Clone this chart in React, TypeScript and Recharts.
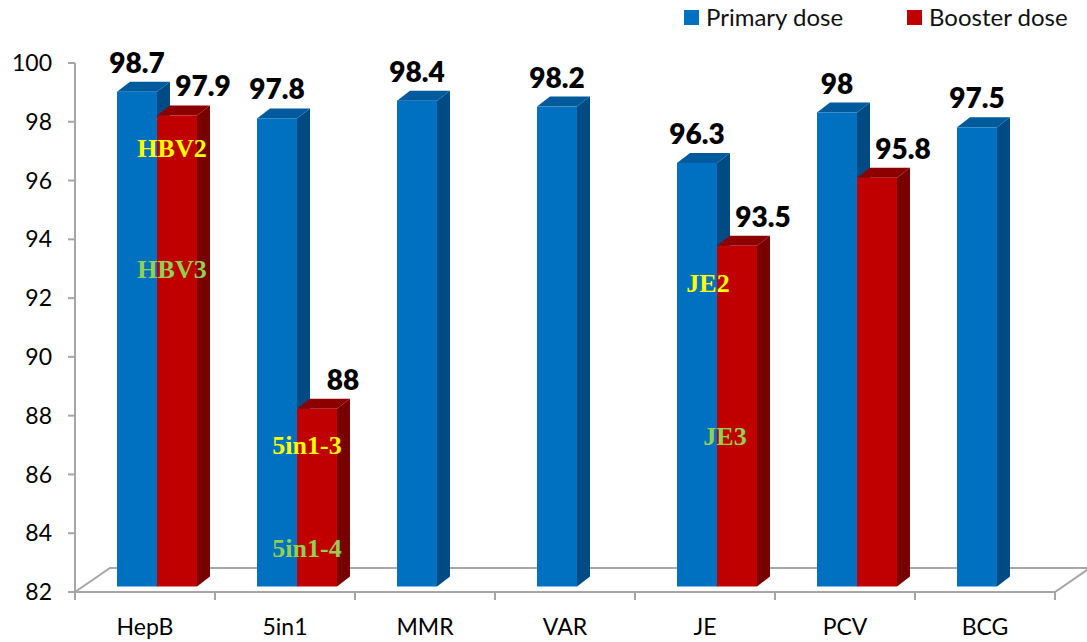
import { BarChart, Bar, XAxis, YAxis, LabelList, ReferenceArea, ReferenceDot, Legend } from 'recharts'

const vaccines = ['HepB', '5in1', 'MMR', 'VAR', 'JE', 'PCV', 'BCG']
const primaryDose = [98.7, 97.8, 98.4, 98.2, 96.3, 98, 97.5]
const boosterDose = [97.9, 88, null, null, 93.5, 95.8, null]
const yTicks = [82, 84, 86, 88, 90, 92, 94, 96, 98, 100]

// dose names written on the bars (upper ones yellow, lower ones green)
const upperNotes = [
  { vaccine: 'HepB', text: 'HBV2', level: 96.8 },
  { vaccine: '5in1', text: '5in1-3', level: 86.7 },
  { vaccine: 'JE', text: 'JE2', level: 92.2 },
]
const lowerNotes = [
  { vaccine: 'HepB', text: 'HBV3', level: 92.7 },
  { vaccine: '5in1', text: '5in1-4', level: 83.2 },
  { vaccine: 'JE', text: 'JE3', level: 87 },
]

const data = vaccines.map((name, i) => ({ name, primary: primaryDose[i], booster: boosterDose[i] }))

const BLUE = { front: '#0070c0', side: '#004b84', top: '#005a9c' }
const RED = { front: '#c00000', side: '#780000', top: '#8c0000' }
const SHIFT_X = 12 // bars sit in the middle of the floor depth
const SHIFT_Y = 5.5
const DEPTH_X = 13
const DEPTH_Y = 10
const AXIS_GREY = '#a6a6a6'
const FONT = 'Lato, "Open Sans", sans-serif'

// horizontal nudge of each note from the category centre
const noteShift: Record<string, number> = { HBV2: 27, HBV3: 27, '5in1-3': 22, '5in1-4': 22, JE2: 3, JE3: 20 }

function Box3D(props: any) {
  const { x, y, width, height, colors, value } = props
  if (value == null || !height || height <= 0) return null
  const bottom = y + height - SHIFT_Y
  const top = bottom - height * 1.008
  const x0 = x + SHIFT_X
  const x1 = x0 + width
  return (
    <g>
      <polygon
        points={`${x1},${top} ${x1 + DEPTH_X},${top - DEPTH_Y} ${x1 + DEPTH_X},${bottom - DEPTH_Y} ${x1},${bottom}`}
        fill={colors.side}
      />
      <polygon
        points={`${x0},${top} ${x0 + DEPTH_X},${top - DEPTH_Y} ${x1 + DEPTH_X},${top - DEPTH_Y} ${x1},${top}`}
        fill={colors.top}
      />
      <rect x={x0} y={top} width={width} height={bottom - top} fill={colors.front} />
    </g>
  )
}

function valueLabel(dx: number) {
  return (p: any) => {
    const vb = p.viewBox ?? p
    const { x, y, width, height } = vb
    if (p.value == null || !height) return null
    const bottom = y + height - SHIFT_Y
    const top = bottom - height * 1.008
    return (
      <text
        x={x + SHIFT_X + width / 2 + dx}
        y={top - 19}
        textAnchor="middle"
        fontFamily={FONT}
        fontWeight={800}
        fontSize={28}
        fill="#000"
      >
        {p.value}
      </text>
    )
  }
}

function Floor(props: any) {
  const { x, y, width, height } = props
  const left = x
  const right = x + width
  const base = y + height
  const fx = 35
  const fy = 24
  const step = width / vaccines.length
  return (
    <g stroke={AXIS_GREY} strokeWidth={2} fill="none">
      <polygon points={`${left},${base} ${right},${base} ${right + fx},${base - fy} ${left + fx},${base - fy}`} />
      {vaccines.concat(['']).map((_, i) => (
        <line key={i} x1={left + i * step} x2={left + i * step} y1={base} y2={base + 8} />
      ))}
    </g>
  )
}

function noteShape(text: string, color: string) {
  return (p: any) => (
    <text
      x={p.cx + noteShift[text]}
      y={p.cy}
      textAnchor="middle"
      fontFamily='"Liberation Serif", "Times New Roman", serif'
      fontWeight={700}
      fontSize={26}
      fill={color}
    >
      {text}
    </text>
  )
}

function LegendBox() {
  const item = (color: string, label: string, w: number) => (
    <div style={{ display: 'flex', alignItems: 'center', width: w }}>
      <span style={{ width: 15, height: 15, background: color, marginRight: 7, display: 'inline-block' }} />
      <span style={{ fontFamily: FONT, fontSize: 24, color: '#111', lineHeight: '26px' }}>{label}</span>
    </div>
  )
  return (
    <div style={{ display: 'flex' }}>
      {item(BLUE.front, 'Primary dose', 223)}
      {item(RED.front, 'Booster dose', 180)}
    </div>
  )
}

export default function App() {
  return (
    <div style={{ position: 'absolute', left: 0, top: 0, background: '#fff' }}>
      <BarChart
        width={1087}
        height={642}
        data={data}
        margin={{ top: 63, right: 32, bottom: 0, left: 0 }}
        barGap={0}
      >
        <ReferenceArea y1={82} y2={100} shape={<Floor />} />
        <XAxis
          dataKey="name"
          axisLine={false}
          tickLine={false}
          height={50}
          tickMargin={21}
          interval={0}
          tick={{ fontSize: 23, fill: '#000', fontFamily: FONT }}
        />
        <YAxis
          domain={[82, 100]}
          ticks={yTicks}
          interval={0}
          width={75}
          axisLine={{ stroke: AXIS_GREY, strokeWidth: 2 }}
          tickLine={{ stroke: AXIS_GREY, strokeWidth: 2 }}
          tickSize={7}
          tickMargin={16}
          tick={{ fontSize: 23, fill: '#000', fontFamily: FONT }}
        />
        <Legend
          layout="vertical"
          align="center"
          verticalAlign="middle"
          wrapperStyle={{ top: 4, left: 684, width: 403, height: 28 }}
          content={() => <LegendBox />}
        />
        <Bar dataKey="primary" barSize={40} isAnimationActive={false} shape={(p: any) => <Box3D {...p} colors={BLUE} />}>
          <LabelList dataKey="primary" content={valueLabel(0)} />
        </Bar>
        <Bar dataKey="booster" barSize={40} isAnimationActive={false} shape={(p: any) => <Box3D {...p} colors={RED} />}>
          <LabelList dataKey="booster" content={valueLabel(26)} />
        </Bar>
        {upperNotes.map((n) => (
          <ReferenceDot key={n.text} x={n.vaccine} y={n.level} r={0} shape={noteShape(n.text, '#ffff00')} />
        ))}
        {lowerNotes.map((n) => (
          <ReferenceDot key={n.text} x={n.vaccine} y={n.level} r={0} shape={noteShape(n.text, '#92d050')} />
        ))}
      </BarChart>
    </div>
  )
}
